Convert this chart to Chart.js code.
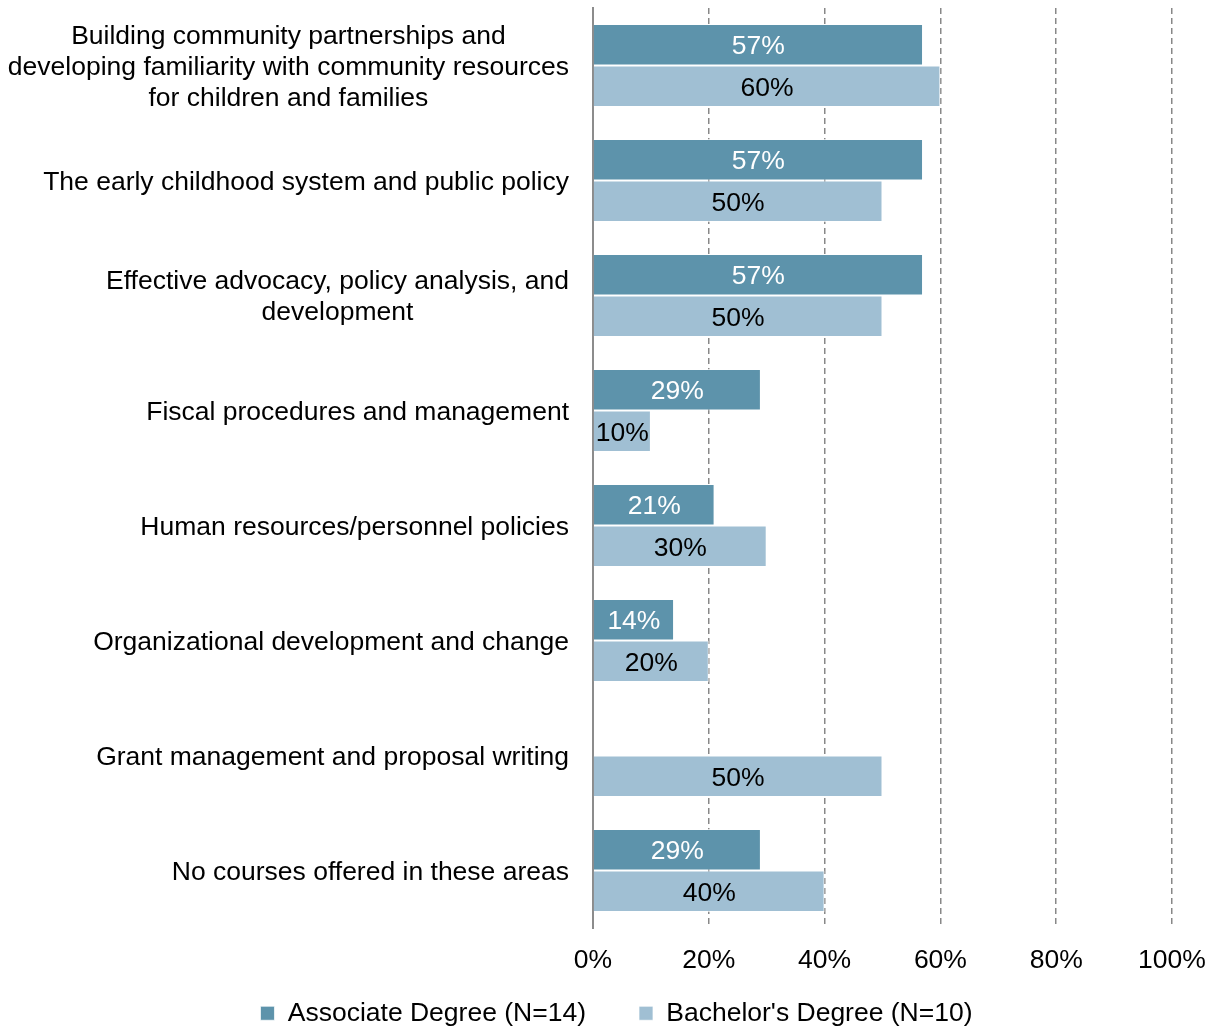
<!DOCTYPE html>
<html>
<head>
<meta charset="utf-8">
<script src="https://cdn.jsdelivr.net/npm/chart.js@4.4.1/dist/chart.umd.min.js"></script>
<style>
  html, body { margin: 0; padding: 0; background: #fff; }
  #wrap { width: 1215px; height: 1030px; }
</style>
</head>
<body>
<div id="wrap"><canvas id="myChart" width="1215" height="1030"></canvas></div>
<script>
// Courses offered by degree level, share of programs (%)
const categories = [
    ['Building community partnerships and', 'developing familiarity with community resources', 'for children and families'],
    ['The early childhood system and public policy'],
    ['Effective advocacy, policy analysis, and', 'development'],
    ['Fiscal procedures and management'],
    ['Human resources/personnel policies'],
    ['Organizational development and change'],
    ['Grant management and proposal writing'],
    ['No courses offered in these areas']
];
const associateValues = [57, 57, 57, 29, 21, 14, 0, 29];
const bachelorValues = [60, 50, 50, 10, 30, 20, 50, 40];
const xTicks = [0, 20, 40, 60, 80, 100];

const FONT = 'Liberation Sans, Arial, sans-serif';
const FONT_SIZE = 26.5;

// category labels: each block centred on its own widest line, right edge near the axis
const categoryLabels = {
    id: 'categoryLabels',
    afterDraw(chart) {
        const ctx = chart.ctx;
        const y = chart.scales.y;
        const right = chart.chartArea.left - 24;
        ctx.save();
        ctx.font = FONT_SIZE + 'px ' + FONT;
        ctx.fillStyle = '#000';
        ctx.textAlign = 'center';
        ctx.textBaseline = 'middle';
        categories.forEach((lines, i) => {
            const maxW = Math.max(...lines.map(l => ctx.measureText(l).width));
            const cx = right - maxW / 2;
            const cy = y.getPixelForValue(i) + 2;
            lines.forEach((line, j) => {
                ctx.fillText(line, cx, cy + (j - (lines.length - 1) / 2) * 31);
            });
        });
        ctx.restore();
    }
};

// value labels in the middle of each bar
const barValues = {
    id: 'barValues',
    afterDatasetsDraw(chart) {
        const ctx = chart.ctx;
        ctx.save();
        ctx.font = FONT_SIZE + 'px ' + FONT;
        ctx.textAlign = 'center';
        ctx.textBaseline = 'middle';
        chart.data.datasets.forEach((ds, di) => {
            const meta = chart.getDatasetMeta(di);
            ctx.fillStyle = di === 0 ? '#ffffff' : '#000000';
            meta.data.forEach((bar, i) => {
                const v = ds.data[i];
                if (!v) return;
                ctx.fillText(v + '%', (bar.x + bar.base) / 2, bar.y + 2);
            });
        });
        ctx.restore();
    }
};

// wide gap between legend items without the legend growing tall;
// x axis keeps a short box but its tick labels need room below it
const layoutTweaks = {
    id: 'layoutTweaks',
    afterInit(chart) {
        const legend = chart.legend;
        const fit = legend.fit;
        legend.fit = function () {
            fit.call(this);
            this.height = 83;
        };
    },
    afterLayout(chart) {
        const x = chart.scales.x;
        x.bottom = x.top + 60;
        chart.legend.left += 18;
    }
};

const ctx = document.getElementById('myChart');
const myChart = new Chart(ctx, {
    type: 'bar',
    data: {
        labels: categories.map(c => c.join(' ')),
        datasets: [
            {
                label: 'Associate Degree (N=14)',
                data: associateValues,
                backgroundColor: '#5d93ab',
                borderColor: 'rgba(255,255,255,0.7)',
                borderWidth: 1,
                categoryPercentage: 0.72,
                barPercentage: 1.0
            },
            {
                label: "Bachelor's Degree (N=10)",
                data: bachelorValues,
                backgroundColor: '#a0bfd3',
                borderColor: 'rgba(255,255,255,0.7)',
                borderWidth: 1,
                categoryPercentage: 0.72,
                barPercentage: 1.0
            }
        ]
    },
    options: {
        indexAxis: 'y',
        responsive: false,
        animation: false,
        devicePixelRatio: 1,
        layout: { padding: { top: 8, left: 0, right: 0, bottom: 0 } },
        scales: {
            x: {
                min: 0,
                max: 100,
                afterBuildTicks: (scale) => { scale.ticks = xTicks.map(v => ({ value: v })); },
                afterFit: (scale) => {
                    scale.height = 19;
                    scale.paddingLeft = 0;
                    scale.paddingRight = 43;
                },
                border: { display: false, dash: [6, 4] },
                grid: {
                    drawTicks: false,
                    color: (c) => c.tick && c.tick.value === 0 ? 'rgba(0,0,0,0)' : '#888888',
                    lineWidth: 1.5
                },
                ticks: {
                    padding: 17,
                    color: '#000',
                    font: { family: FONT, size: FONT_SIZE },
                    callback: (v) => v + '%'
                }
            },
            y: {
                afterFit: (scale) => { scale.width = 593; },
                border: { display: true, color: '#8c8c8c', width: 2 },
                grid: { display: false, drawTicks: false },
                ticks: { display: false }
            }
        },
        plugins: {
            legend: {
                position: 'bottom',
                labels: {
                    boxWidth: 14,
                    boxHeight: 14,
                    padding: 53,
                    color: '#000',
                    font: { family: FONT, size: FONT_SIZE }
                }
            },
            tooltip: { enabled: false }
        }
    },
    plugins: [categoryLabels, barValues, layoutTweaks]
});
</script>
</body>
</html>
